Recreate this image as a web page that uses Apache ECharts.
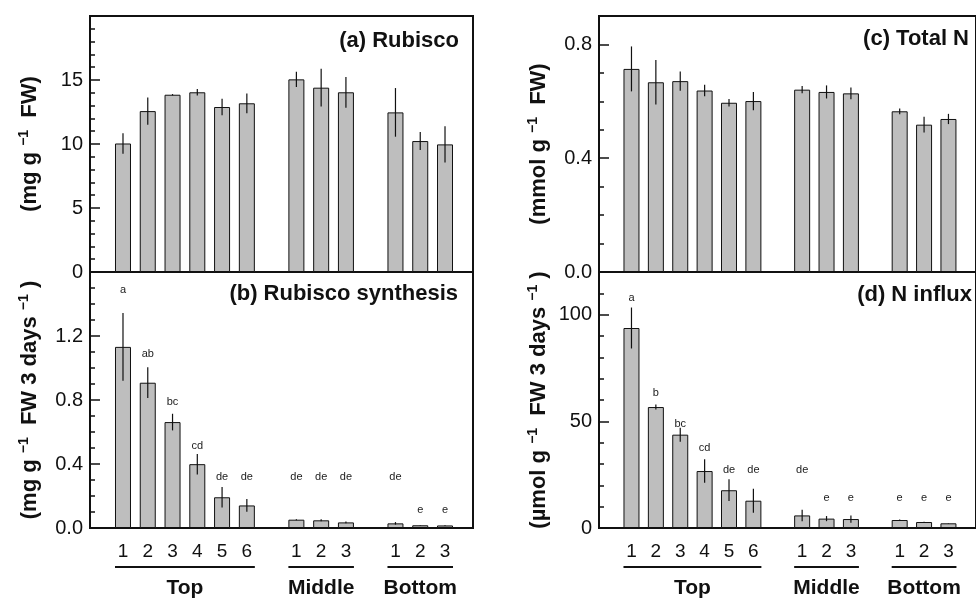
<!DOCTYPE html>
<html>
<head>
<meta charset="utf-8">
<title>Rubisco / N</title>
<script src="https://cdn.jsdelivr.net/npm/echarts@6/dist/echarts.min.js"></script>
<style>
  html, body { margin: 0; padding: 0; background: #fff; }
  #main { width: 976px; height: 599px; }
</style>
</head>
<body>
<div id="main"></div>
<script>
// leaf layers and leaf numbers
var groups = ['Top', 'Middle', 'Bottom'];
var groupSizes = [6, 3, 3];
var tickLabels = ['1', '2', '3', '4', '5', '6', '1', '2', '3', '1', '2', '3'];

// (a) Rubisco
var rubisco    = [10.04, 12.57, 13.85, 14.04, 12.89, 13.18, 15.05, 14.40, 14.04, 12.47, 10.23, 9.97];
var rubiscoErr = [0.80, 1.07, 0.05, 0.26, 0.65, 0.77, 0.60, 1.47, 1.20, 1.90, 0.70, 1.42];

// (b) Rubisco synthesis
var synth    = [1.132, 0.908, 0.662, 0.399, 0.192, 0.141, 0.052, 0.048, 0.035, 0.029, 0.017, 0.016];
var synthErr = [0.212, 0.096, 0.052, 0.064, 0.064, 0.040, 0.003, 0.006, 0.005, 0.008, 0.002, 0.002];
var synthLetters  = ['a', 'ab', 'bc', 'cd', 'de', 'de', 'de', 'de', 'de', 'de', 'e', 'e'];
var synthLetterAt = [1.486, 1.09, 0.79, 0.515, 0.32, 0.32, 0.32, 0.32, 0.32, 0.32, 0.114, 0.114];

// (c) Total N
var totalN    = [0.714, 0.667, 0.671, 0.638, 0.595, 0.601, 0.641, 0.633, 0.628, 0.565, 0.518, 0.538];
var totalNErr = [0.079, 0.078, 0.034, 0.020, 0.013, 0.032, 0.013, 0.023, 0.021, 0.010, 0.028, 0.018];

// (d) N influx
var influx    = [93.75, 56.7, 43.75, 26.7, 17.7, 12.8, 5.9, 4.4, 4.2, 3.75, 2.8, 2.2];
var influxErr = [9.6, 1.2, 3.3, 5.5, 5.1, 5.6, 2.7, 1.2, 1.7, 0.2, 0.1, 0.1];
var influxLetters  = ['a', 'b', 'bc', 'cd', 'de', 'de', 'de', 'e', 'e', 'e', 'e', 'e'];
var influxLetterAt = [108, 63.3, 48.9, 37.5, 27.3, 27.3, 27.3, 14, 14, 14, 14, 14];

// slot positions: one empty slot between layers
var pos = [], groupSpan = [];
var slot = 1;
groupSizes.forEach(function (n) {
    groupSpan.push([slot, slot + n - 1]);
    for (var k = 0; k < n; k++) pos.push(slot++);
    slot++;
});

var FONT = 'Liberation Sans, Arial, Helvetica, sans-serif';
var INK = '#111';

var panels = [
    { vals: rubisco, err: rubiscoErr, max: 20, major: 5, minor: 1, dec: 0, bottom: false,
      name: '(mg g {sup|\u22121}  FW)', title: '(a) Rubisco', titleRight: 517, titleTop: 30 },
    { vals: synth, err: synthErr, max: 1.6, major: 0.4, minor: 0.1, dec: 1, bottom: true,
      letters: synthLetters, letterAt: synthLetterAt,
      name: '(mg g {sup|\u22121}  FW 3 days {sup|\u22121} )', title: '(b) Rubisco synthesis', titleRight: 518, titleTop: 283 },
    { vals: totalN, err: totalNErr, max: 0.9, major: 0.4, minor: 0.1, dec: 1, bottom: false,
      name: '(mmol g {sup|\u22121}  FW)', title: '(c) Total N', titleRight: 7, titleTop: 28 },
    { vals: influx, err: influxErr, max: 120, major: 50, minor: 10, dec: 0, bottom: true,
      letters: influxLetters, letterAt: influxLetterAt,
      name: '(\u00b5mol g {sup|\u22121}  FW 3 days {sup|\u22121} )', title: '(d) N influx', titleRight: 4, titleTop: 284 }
];

var gridBoxes = [
    { left: 90, top: 16, width: 383, height: 256 },
    { left: 90, top: 272, width: 383, height: 256 },
    { left: 599, top: 16, width: 383, height: 256 },
    { left: 599, top: 272, width: 383, height: 256 }
];

var grid = [], xAxis = [], yAxis = [], series = [], title = [];

panels.forEach(function (p, i) {
    grid.push(Object.assign({ show: true, borderColor: INK, borderWidth: 2, backgroundColor: 'transparent' }, gridBoxes[i]));

    xAxis.push({
        type: 'value', gridIndex: i, min: -0.332, max: 15.13,
        axisLine: { show: false, onZero: false }, axisTick: { show: false }, splitLine: { show: false },
        axisLabel: {
            show: p.bottom, customValues: pos, margin: 14,
            fontSize: 19, color: INK, fontFamily: FONT,
            formatter: function (v) { return tickLabels[pos.indexOf(v)]; }
        }
    });

    // minor ticks
    yAxis.push({
        type: 'value', gridIndex: i, position: 'left', min: 0, max: p.max, interval: p.minor,
        axisLine: { show: false, onZero: false }, splitLine: { show: false }, axisLabel: { show: false },
        axisTick: { inside: true, length: 5, lineStyle: { color: INK, width: 1.5 } }
    });
    // major ticks, labels and name
    yAxis.push({
        type: 'value', gridIndex: i, position: 'left', min: 0, max: p.max, interval: p.major,
        axisLine: { show: false, onZero: false }, splitLine: { show: false },
        axisTick: { inside: true, length: 10, lineStyle: { color: INK, width: 1.5 } },
        axisLabel: {
            fontSize: 20, color: INK, margin: 7, fontFamily: FONT, showMaxLabel: false,
            formatter: (function (d) { return function (v) { return v.toFixed(d); }; })(p.dec)
        },
        name: p.name, nameLocation: 'middle', nameRotate: 90, nameGap: 47,
        nameTextStyle: {
            fontSize: 22, fontWeight: 'bold', color: INK, fontFamily: FONT, lineHeight: 26,
            rich: { sup: { fontSize: 14, fontWeight: 'bold', color: INK, fontFamily: FONT, verticalAlign: 'top', lineHeight: 13 } }
        }
    });
    var yi = i * 2 + 1;

    title.push({
        text: p.title, right: p.titleRight, top: p.titleTop, padding: 0,
        textStyle: { fontSize: 22, fontWeight: 'bold', color: INK, fontFamily: FONT }
    });

    series.push({
        type: 'bar', xAxisIndex: i, yAxisIndex: yi, barWidth: 16, silent: true,
        data: pos.map(function (x, k) { return [x, p.vals[k]]; }),
        itemStyle: { color: '#bebebe', borderColor: INK, borderWidth: 1 }
    });

    series.push({
        type: 'custom', xAxisIndex: i, yAxisIndex: yi, silent: true, clip: true, z: 5,
        data: pos.map(function (x, k) { return [x, p.vals[k] - p.err[k], p.vals[k] + p.err[k]]; }),
        encode: { x: 0, y: [1, 2] },
        renderItem: function (params, api) {
            var lo = api.coord([api.value(0), api.value(1)]);
            var hi = api.coord([api.value(0), api.value(2)]);
            return { type: 'line', shape: { x1: lo[0], y1: lo[1], x2: hi[0], y2: hi[1] },
                     style: { stroke: INK, lineWidth: 1.2 } };
        }
    });

    if (p.letters) {
        series.push({
            type: 'custom', xAxisIndex: i, yAxisIndex: yi, silent: true, z: 6,
            data: pos.map(function (x, k) { return [x, p.letterAt[k]]; }),
            encode: { x: 0, y: 1 },
            renderItem: function (params, api) {
                var c = api.coord([api.value(0), api.value(1)]);
                return { type: 'text', style: { x: c[0], y: c[1], text: p.letters[params.dataIndex],
                    align: 'center', verticalAlign: 'middle', fontSize: 11, fontFamily: FONT, fill: '#222' } };
            }
        });
    }

    if (p.bottom) {
        // layer brackets under the leaf numbers
        series.push({
            type: 'custom', xAxisIndex: i, yAxisIndex: yi, silent: true, clip: false,
            data: groupSpan.map(function (s) { return [s[0], s[1], 0]; }),
            encode: { x: [0, 1], y: 2 },
            renderItem: function (params, api) {
                var a = api.coord([api.value(0), 0]);
                var b = api.coord([api.value(1), 0]);
                return { type: 'group', children: [
                    { type: 'line', shape: { x1: a[0] - 8, y1: a[1] + 39, x2: b[0] + 8, y2: a[1] + 39 },
                      style: { stroke: INK, lineWidth: 2 } },
                    { type: 'text', style: { x: (a[0] + b[0]) / 2, y: a[1] + 60, text: groups[params.dataIndex],
                      align: 'center', verticalAlign: 'middle', fontSize: 21, fontWeight: 'bold',
                      fontFamily: FONT, fill: INK } }
                ] };
            }
        });
    }
});

var myChart = echarts.init(document.getElementById('main'));
myChart.setOption({
    animation: false,
    textStyle: { fontFamily: FONT },
    title: title,
    grid: grid,
    xAxis: xAxis,
    yAxis: yAxis,
    series: series
});
</script>
</body>
</html>
